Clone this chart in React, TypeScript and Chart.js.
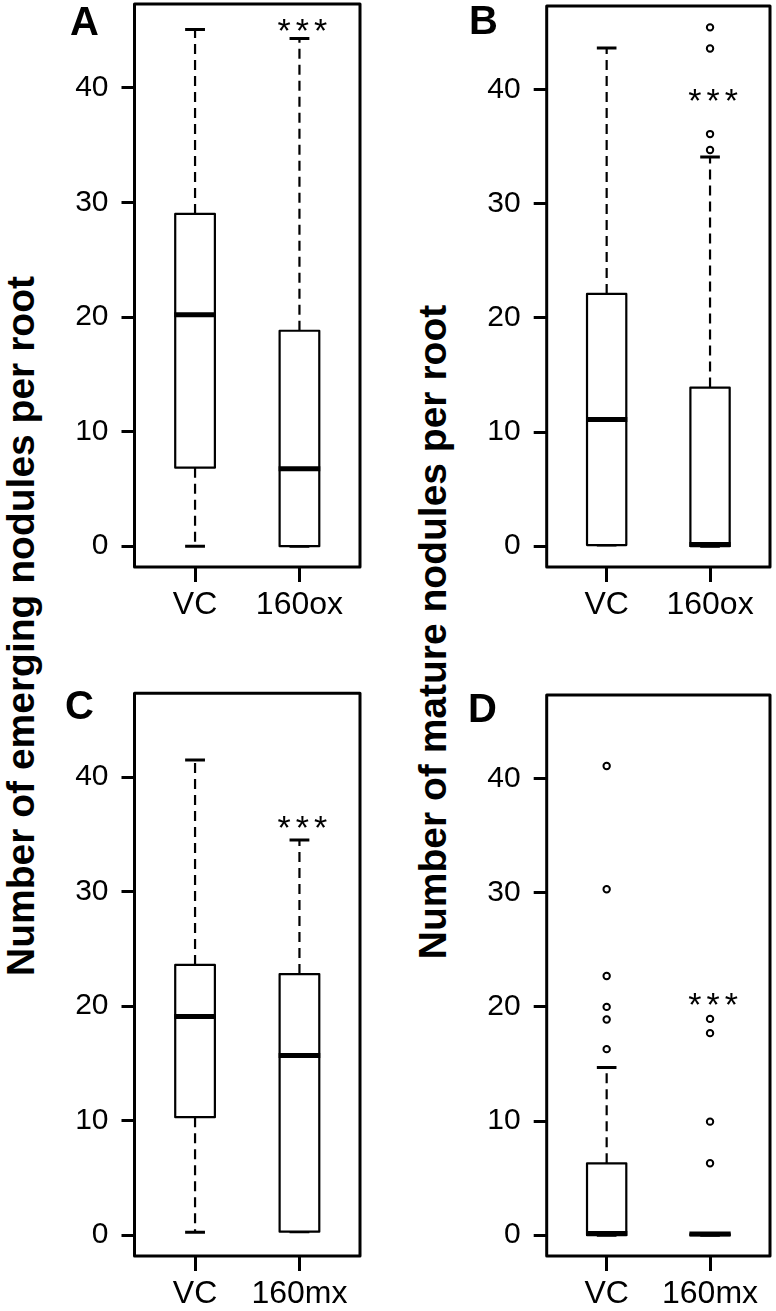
import React, { useEffect, useRef } from "react";
import { Chart, registerables } from "chart.js";

Chart.register(...registerables);

const FONT = '"Liberation Sans", Arial, Helvetica, sans-serif';

// ---------- text / categories ----------
const panelLetters = ["A", "B", "C", "D"];
const categoriesOx = ["VC", "160ox"];
const categoriesMx = ["VC", "160mx"];
const yTickValues = [0, 10, 20, 30, 40];
const yAxisMin = -1.82;
const yAxisMax = 47.32;
const yTitleEmerging = "Number of emerging nodules per root";
const yTitleMature = "Number of mature nodules per root";
const significance = "***";

// ---------- Panel A: emerging nodules, VC vs 160ox ----------
const aLower = [0, 0];
const aQ1 = [6.85, 0];
const aMedian = [20.2, 6.75];
const aQ3 = [29.0, 18.8];
const aUpper = [45.1, 44.3];
const aOutliers: number[][] = [[], []];
const aStarLevel = 45.4;

// ---------- Panel B: mature nodules, VC vs 160ox ----------
const bLower = [0.1, 0];
const bQ1 = [0.1, 0];
const bMedian = [11.1, 0.15];
const bQ3 = [22.1, 13.9];
const bUpper = [43.65, 34.1];
const bOutliers: number[][] = [[], [34.7, 36.1, 43.6, 45.45]];
const bStarLevel = 39.4;

// ---------- Panel C: emerging nodules, VC vs 160mx ----------
const cLower = [0.25, 0.3];
const cQ1 = [10.3, 0.3];
const cMedian = [19.1, 15.7];
const cQ3 = [23.6, 22.8];
const cUpper = [41.5, 34.5];
const cOutliers: number[][] = [[], []];
const cStarLevel = 36.0;

// ---------- Panel D: mature nodules, VC vs 160mx ----------
const dLower = [0, 0];
const dQ1 = [0, 0];
const dMedian = [0.15, 0.1];
const dQ3 = [6.3, 0.1];
const dUpper = [14.7, 0.1];
const dOutliers: number[][] = [
  [16.3, 18.9, 20.0, 22.7, 30.3, 41.1],
  [6.3, 9.95, 17.7, 18.95],
];
const dStarLevel = 20.6;

const BOX_HALF = 0.19; // x units
const STAPLE_HALF = 0.095;

type Panel = {
  letter: string;
  cats: string[];
  lower: number[];
  q1: number[];
  median: number[];
  q3: number[];
  upper: number[];
  outliers: number[][];
  star: number;
  left: number;
  top: number;
  width: number;
  height: number;
  yAxisWidth: number;
  padTop: number;
};

const panels: Panel[] = [
  { letter: panelLetters[0], cats: categoriesOx, lower: aLower, q1: aQ1, median: aMedian, q3: aQ3, upper: aUpper, outliers: aOutliers, star: aStarLevel,
    left: 50, top: 0, width: 315, height: 622, yAxisWidth: 84.5, padTop: 4 },
  { letter: panelLetters[1], cats: categoriesOx, lower: bLower, q1: bQ1, median: bMedian, q3: bQ3, upper: bUpper, outliers: bOutliers, star: bStarLevel,
    left: 460, top: 0, width: 316, height: 622, yAxisWidth: 86.7, padTop: 4.7 },
  { letter: panelLetters[2], cats: categoriesMx, lower: cLower, q1: cQ1, median: cMedian, q3: cQ3, upper: cUpper, outliers: cOutliers, star: cStarLevel,
    left: 50, top: 689, width: 315, height: 622, yAxisWidth: 84.5, padTop: 4.3 },
  { letter: panelLetters[3], cats: categoriesMx, lower: dLower, q1: dQ1, median: dMedian, q3: dQ3, upper: dUpper, outliers: dOutliers, star: dStarLevel,
    left: 460, top: 689, width: 316, height: 622, yAxisWidth: 86.7, padTop: 3.7 },
];

function makeBoxPlugin(p: Panel) {
  return {
    id: "boxplot" + p.letter,
    beforeDatasetsDraw(chart: any) {
      const { ctx, scales } = chart;
      const xs = scales.x;
      const ys = scales.y;
      ctx.save();
      ctx.strokeStyle = "#000";
      for (let i = 0; i < p.median.length; i++) {
        const xc = xs.getPixelForValue(i + 1);
        const hw = xs.getPixelForValue(i + 1 + BOX_HALF) - xc;
        const sw = xs.getPixelForValue(i + 1 + STAPLE_HALF) - xc;
        const yLo = ys.getPixelForValue(p.lower[i]);
        const yQ1 = ys.getPixelForValue(p.q1[i]);
        const yMed = ys.getPixelForValue(p.median[i]);
        const yQ3 = ys.getPixelForValue(p.q3[i]);
        const yHi = ys.getPixelForValue(p.upper[i]);
        // whiskers
        ctx.lineWidth = 2.2;
        ctx.lineCap = "butt";
        ctx.setLineDash([10, 6]);
        ctx.beginPath();
        ctx.moveTo(xc, yQ3);
        ctx.lineTo(xc, yHi);
        ctx.moveTo(xc, yQ1);
        ctx.lineTo(xc, yLo);
        ctx.stroke();
        ctx.setLineDash([]);
        // staples
        ctx.lineWidth = 3;
        ctx.beginPath();
        ctx.moveTo(xc - sw, yHi);
        ctx.lineTo(xc + sw, yHi);
        ctx.moveTo(xc - sw, yLo);
        ctx.lineTo(xc + sw, yLo);
        ctx.stroke();
        // box
        ctx.lineWidth = 2.2;
        ctx.lineJoin = "round";
        ctx.fillStyle = "#fff";
        ctx.beginPath();
        ctx.rect(xc - hw, yQ3, 2 * hw, yQ1 - yQ3);
        ctx.fill();
        ctx.stroke();
        // median
        ctx.lineWidth = 5;
        ctx.beginPath();
        ctx.moveTo(xc - hw - 1, yMed);
        ctx.lineTo(xc + hw + 1, yMed);
        ctx.stroke();
      }
      ctx.restore();
    },
    afterDraw(chart: any) {
      const { ctx, chartArea, scales } = chart;
      ctx.save();
      // frame
      ctx.strokeStyle = "#000";
      ctx.lineWidth = 3;
      ctx.lineJoin = "round";
      ctx.strokeRect(chartArea.left, chartArea.top, chartArea.right - chartArea.left, chartArea.bottom - chartArea.top);
      // significance mark
      const size = 34;
      const spacing = 5;
      ctx.font = `${size}px ${FONT}`;
      ctx.fillStyle = "#000";
      ctx.textAlign = "center";
      ctx.textBaseline = "alphabetic";
      try {
        (ctx as any).letterSpacing = `${spacing}px`;
      } catch (e) {}
      const sx = scales.x.getPixelForValue(2) + 3 + spacing / 2;
      const sy = scales.y.getPixelForValue(p.star) + 0.46 * size;
      ctx.fillText(significance, sx, sy);
      ctx.restore();
    },
  };
}

function BoxPanel({ p }: { p: Panel }) {
  const ref = useRef<HTMLCanvasElement>(null);
  useEffect(() => {
    const canvas = ref.current;
    if (!canvas) return;
    const points: { x: number; y: number }[] = [];
    p.outliers.forEach((arr, i) => arr.forEach((v) => points.push({ x: i + 1, y: v })));
    const chart = new Chart(canvas, {
      type: "scatter",
      data: {
        datasets: [
          {
            data: points,
            pointRadius: 3.2,
            pointBorderWidth: 2,
            pointBorderColor: "#000",
            pointBackgroundColor: "#fff",
            pointStyle: "circle",
            showLine: false,
          } as any,
        ],
      },
      options: {
        animation: false,
        responsive: false,
        maintainAspectRatio: false,
        events: [],
        layout: { padding: { top: p.padTop, right: 5, bottom: 0, left: 0 } },
        plugins: { legend: { display: false }, tooltip: { enabled: false }, title: { display: false } },
        scales: {
          x: {
            type: "linear",
            min: 0.42,
            max: 2.58,
            afterBuildTicks: (s: any) => {
              s.ticks = p.cats.map((_, i) => ({ value: i + 1 }));
            },
            afterFit: (s: any) => {
              s.height = 55;
              s.paddingLeft = 0;
              s.paddingRight = 0;
            },
            ticks: {
              callback: (v: any) => p.cats[Math.round(Number(v)) - 1] ?? "",
              font: { family: FONT, size: 32 },
              color: "#000",
              padding: 4,
              autoSkip: false,
              maxRotation: 0,
              minRotation: 0,
            },
            grid: { drawOnChartArea: false, drawTicks: true, tickLength: 15, lineWidth: 3, tickWidth: 3, tickColor: "#000", color: "#000" },
            border: { display: false },
          },
          y: {
            type: "linear",
            min: yAxisMin,
            max: yAxisMax,
            afterBuildTicks: (s: any) => {
              s.ticks = yTickValues.map((v) => ({ value: v }));
            },
            afterFit: (s: any) => {
              s.width = p.yAxisWidth;
              s.paddingTop = 0;
              s.paddingBottom = 0;
            },
            ticks: {
              callback: (v: any) => String(v),
              font: { family: FONT, size: 30 },
              color: "#000",
              padding: 13,
              autoSkip: false,
            },
            grid: { drawOnChartArea: false, drawTicks: true, tickLength: 13, lineWidth: 3, tickWidth: 3, tickColor: "#000", color: "#000" },
            border: { display: false },
          },
        },
      } as any,
      plugins: [makeBoxPlugin(p)],
    });
    return () => chart.destroy();
  }, [p]);
  return (
    <canvas
      ref={ref}
      width={p.width}
      height={p.height}
      style={{ position: "absolute", left: p.left, top: p.top, width: p.width, height: p.height }}
    />
  );
}

const letterPos = [
  { x: 70, y: 1 },
  { x: 469, y: 0 },
  { x: 65, y: 685 },
  { x: 468, y: 688 },
];

const titlePos = [
  { text: yTitleEmerging, cx: 20, cy: 626 },
  { text: yTitleMature, cx: 432, cy: 632 },
];

export default function App() {
  return (
    <div
      style={{
        position: "absolute",
        left: 0,
        top: 0,
        width: 776,
        height: 1311,
        overflow: "hidden",
        background: "#fff",
        fontFamily: FONT,
      }}
    >
      {panels.map((p) => (
        <BoxPanel key={p.letter} p={p} />
      ))}
      {panels.map((p, i) => (
        <div
          key={"L" + p.letter}
          style={{
            position: "absolute",
            left: letterPos[i].x,
            top: letterPos[i].y,
            font: `bold 40px ${FONT}`,
            lineHeight: "40px",
            color: "#000",
          }}
        >
          {p.letter}
        </div>
      ))}
      {titlePos.map((t) => (
        <div
          key={t.text}
          style={{
            position: "absolute",
            left: t.cx,
            top: t.cy,
            transform: "translate(-50%, -50%) rotate(-90deg)",
            whiteSpace: "nowrap",
            font: `bold 39px ${FONT}`,
            lineHeight: "39px",
            color: "#000",
          }}
        >
          {t.text}
        </div>
      ))}
    </div>
  );
}
